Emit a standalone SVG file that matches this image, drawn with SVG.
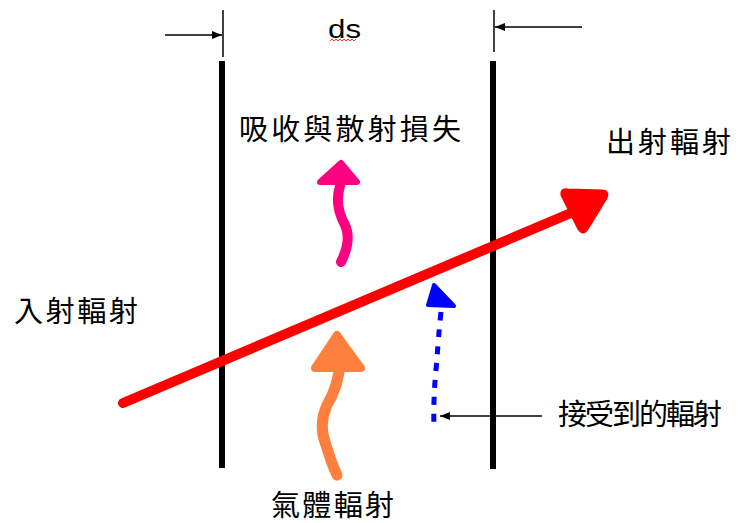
<svg xmlns="http://www.w3.org/2000/svg" width="748" height="523" viewBox="0 0 748 523">
<defs>
<marker id="ah" viewBox="0 0 10 10" refX="10" refY="5" markerWidth="10" markerHeight="10" markerUnits="userSpaceOnUse" orient="auto">
<path d="M0,1 L10,5 L0,9 Z" fill="#000"/>
</marker>
</defs>
<style>
.t{font-family:"Noto Sans CJK TC","Noto Sans CJK SC",sans-serif;font-size:29px;fill:#000}
.w{stroke:#000;stroke-width:6;fill:none}
.thin{stroke:#000;stroke-width:1.5;fill:none}
</style>
<rect width="748" height="523" fill="#fff"/>
<g id="walls">
<line class="w" x1="222" y1="61" x2="222" y2="468"/>
<line class="w" x1="493" y1="61" x2="493" y2="469"/>
<line class="thin" x1="223" y1="10" x2="223" y2="57"/>
<line class="thin" x1="494" y1="10" x2="494" y2="52"/>
</g>
<g id="connectors">
<line class="thin" x1="165" y1="35" x2="222" y2="35" marker-end="url(#ah)"/>
<line class="thin" x1="582" y1="27" x2="495" y2="27" marker-end="url(#ah)"/>
<line class="thin" x1="542" y1="416" x2="440" y2="416" marker-end="url(#ah)"/>
<g id="red-arrow">
<line x1="123" y1="403" x2="578" y2="210" stroke="#ff0000" stroke-width="10" stroke-linecap="round"/>
<path d="M562,195 Q561,189 568,190 L603,191 Q609,192 606,198 L587,229 Q583,235 579,229 Z" fill="#ff0000" stroke="#ff0000" stroke-width="3" stroke-linejoin="round"/>
</g>
<g id="pink-arrow">
<path d="M340,186 Q334,205 345,225 Q352,240 341,262" stroke="#ff0080" stroke-width="10" fill="none" stroke-linecap="round"/>
<path d="M341,163 L357,182 L320,182 Z" fill="#ff0080" stroke="#ff0080" stroke-width="6" stroke-linejoin="round"/>
</g>
<g id="orange-arrow">
<path d="M339,372 Q336,390 327,405 Q318,425 326,445 Q332,465 337,475" stroke="#ff7f3f" stroke-width="11" fill="none" stroke-linecap="round"/>
<path d="M337,335 L361,368 L315,368 Z" fill="#ff7f3f" stroke="#ff7f3f" stroke-width="8" stroke-linejoin="round"/>
</g>
<g id="blue-arrow">
<path d="M441,312 Q438,340 437,360 Q433,395 434,428" stroke="#0000ff" stroke-width="5" fill="none" stroke-dasharray="8,9"/>
<path d="M434,285 L454,306 L428,305 Z" fill="#0000ff" stroke="#0000ff" stroke-width="4" stroke-linejoin="round"/>
</g>
</g>
<g id="labels">
<text x="328" y="38" font-family="Liberation Sans, Arial, sans-serif" font-size="25" fill="#000" textLength="33" lengthAdjust="spacingAndGlyphs">ds</text>
<path d="M330,41 l2,-2 l2,2 l2,-2 l2,2 l2,-2 l2,2 l2,-2 l2,2 l2,-2 l2,2 l2,-2 l2,2 l2,-2" stroke="#ff3030" stroke-width="1" fill="none"/>
<text class="t" x="239" y="140" textLength="222" lengthAdjust="spacing">吸收與散射損失</text>
<text class="t" x="606" y="153" textLength="125" lengthAdjust="spacing">出射輻射</text>
<text class="t" x="14" y="322" textLength="124" lengthAdjust="spacing">入射輻射</text>
<text class="t" x="558" y="425" textLength="164" lengthAdjust="spacing">接受到的輻射</text>
<text class="t" x="271" y="516" textLength="123" lengthAdjust="spacing">氣體輻射</text>
</g>
</svg>
